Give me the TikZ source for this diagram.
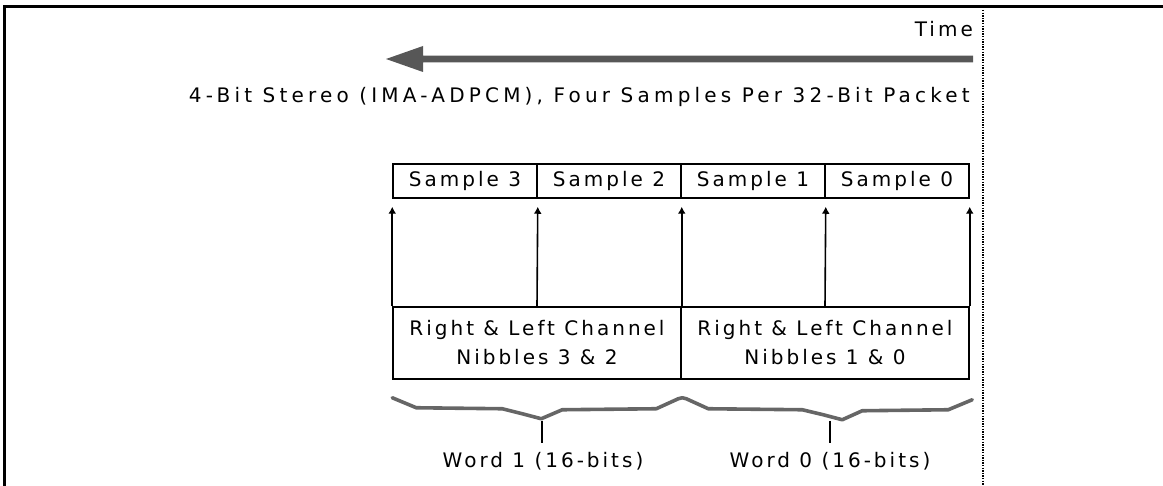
\documentclass[tikz,border=0pt]{standalone}
\usepackage{fontspec}
\setmainfont{DejaVu Sans}
\usetikzlibrary{arrows.meta,calc}

\begin{document}
\begin{tikzpicture}[x=1pt,y=-1pt,
  txt/.style={font=\fontsize{20}{29}\selectfont\addfontfeature{LetterSpace=15}},
  lbl/.style={txt, inner sep=0pt},
  widelbl/.style={inner sep=0pt, font=\fontsize{20}{29}\selectfont\addfontfeature{LetterSpace=21}},
  cell/.style={txt, draw, line width=1.5pt, minimum width=144pt, minimum height=34pt, inner sep=0pt},
  wordcell/.style={cell, minimum width=288pt, minimum height=72pt, align=center},
  up/.style={line width=1.6pt, -{Latex[length=7pt,width=8pt]}},
  bracepath/.style={draw=black!60, line width=3.6pt, line join=round, line cap=round},
  tick/.style={line width=1.6pt}]
\useasboundingbox (0,0) rectangle (1163,486);

% outer frame (top and left edges) and dotted page margin
\draw[line width=3pt] (4,486) -- (4,7) -- (1163,7);
\draw[line width=1.6pt, dash pattern=on 1.4pt off 1.2pt] (983,10) -- (983,486);

% time axis
\node[lbl, anchor=east] (time) at (973,29) {Time};
\coordinate (tstart) at (973,59);
\coordinate (ttip) at (386,59);
\fill[black!66] ($(tstart)+(0,-3.3)$) -- (423,55.7) -- (423,46) -- (ttip) -- (423,72) -- (423,62.3) -- ($(tstart)+(0,3.3)$) -- cycle;

\node[widelbl, anchor=east] (caption) at (970,97) {4-Bit Stereo (IMA-ADPCM), Four Samples Per 32-Bit Packet};

% packet samples
\node[cell] (s3) at (465,181) {Sample 3};
\node[cell] (s2) at (609,181) {Sample 2};
\node[cell] (s1) at (753,181) {Sample 1};
\node[cell] (s0) at (897,181) {Sample 0};

% 16-bit words
\node[wordcell] (w1) at (537,343) {Right \& Left Channel\\Nibbles 3 \& 2};
\node[wordcell] (w0) at (825,343) {Right \& Left Channel\\Nibbles 1 \& 0};

% mapping arrows
\draw[up] (w1.north west) -- ([yshift=-8pt]s3.south west);
\draw[up] (w1.north) -- ([yshift=-8pt]s3.south east);
\draw[up] (w1.north east) -- ([yshift=-8pt]s2.south east);
\draw[up] (w0.north) -- ([yshift=-8pt]s1.south east);
\draw[up] (w0.north east) -- ([yshift=-8pt]s0.south east);

% braces under the words
\draw[bracepath] ($(w1.south west)+(0,18)$) -- ++(24,10) -- ++(86,1) -- ++(20,5) -- ++(19,5)
  -- ++(21,-9) -- ++(94,-1) -- ++(22,-10) -- ++(4,-1) -- ++(4,1) -- ++(22,10) -- ++(94,1)
  -- ++(21,5) -- ++(19,5) -- ++(20,-9) -- ++(86,-1) -- ++(24,-10);

% word labels
\node[lbl] (l1) at (543,461) {Word 1 (16-bits)};
\node[lbl] (l0) at (830,461) {Word 0 (16-bits)};
\draw[tick] (542,421) -- (542,443);
\draw[tick] (830,421) -- (830,443);
\end{tikzpicture}
\end{document}
